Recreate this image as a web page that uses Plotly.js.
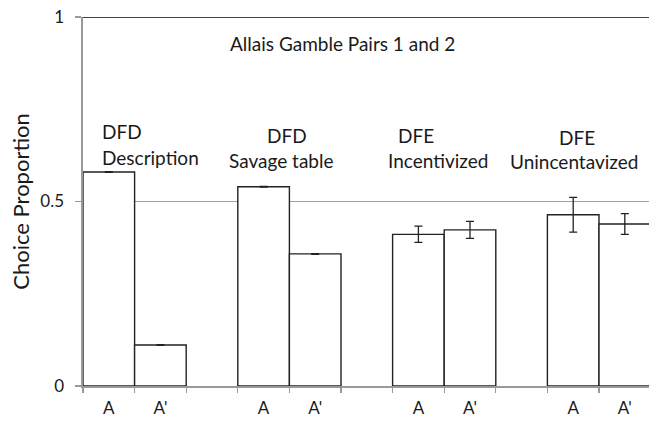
<!DOCTYPE html>
<html>
<head>
<meta charset="utf-8">
<script src="https://cdn.plot.ly/plotly-3.0.1.min.js"></script>
<style>html,body{margin:0;padding:0;background:#fff;}#chart{width:649px;height:423px;}</style>
</head>
<body>
<div id="chart"></div>
<script>
// ---- data ----
const groups = ['DFD Description', 'DFD Savage table', 'DFE Incentivized', 'DFE Unincentavized'];
const options = ['A', "A'"];
const values = [0.580, 0.111, 0.540, 0.358, 0.411, 0.423, 0.464, 0.439];
const errors = [0.001, 0.001, 0.001, 0.001, 0.022, 0.023, 0.047, 0.028];
const yTicks = [0, 0.5, 1];
const yTickLabels = ['0', '0.5', '1'];
const chartTitle = 'Allais Gamble Pairs 1 and 2';
const yTitle = 'Choice Proportion';

// ---- build category slots (two bars per group, one empty slot between groups) ----
const slotIds = [], slotLabels = [];
const barX = [], barY = [], barErr = [];
groups.forEach((g, gi) => {
  options.forEach((o, oi) => {
    const id = g + '|' + o;
    slotIds.push(id); slotLabels.push(o);
    barX.push(id); barY.push(values[gi * 2 + oi]); barErr.push(errors[gi * 2 + oi]);
  });
  if (gi < groups.length - 1) { slotIds.push('gap' + gi); slotLabels.push(''); }
});

const FONT = 'Lato, "Open Sans", sans-serif';
const W = 649, H = 423, ML = 83, MR = 0, MT = 17, MB = 37;
const pw = W - ML - MR;
const slotPx = 51.6;
const xRange = [-0.5, -0.5 + pw / slotPx];
function px(x) { return (x - ML) / pw; }
function py(y) { return 1 - (y - MT) / (H - MT - MB); }

const trace = {
  type: 'bar',
  x: barX,
  y: barY,
  width: 1,
  marker: { color: '#ffffff', line: { color: '#222222', width: 1.4 } },
  error_y: { type: 'data', array: barErr, visible: true, color: '#222222', thickness: 1.3, width: 4 },
  hoverinfo: 'none',
  cliponaxis: true
};

function ann(text, xPix, yPix, anchor) {
  return { text: text, xref: 'paper', yref: 'paper', x: px(xPix), y: py(yPix),
    xanchor: anchor || 'left', yanchor: 'middle', showarrow: false,
    font: { family: FONT, size: 19, color: '#1a1a1a' } };
}

const layout = {
  width: W, height: H,
  margin: { l: ML, r: MR, t: MT, b: MB, pad: 0 },
  paper_bgcolor: '#ffffff', plot_bgcolor: '#ffffff',
  showlegend: false,
  font: { family: FONT, color: '#1a1a1a' },
  xaxis: {
    type: 'category',
    categoryorder: 'array', categoryarray: slotIds,
    tickmode: 'array', tickvals: slotIds, ticktext: slotLabels,
    tickson: 'boundaries',
    range: xRange,
    ticks: 'outside', ticklen: 5, tickcolor: '#999999', tickwidth: 1.3,
    ticklabelstandoff: 6,
    showline: true, linecolor: '#999999', linewidth: 1.6,
    showgrid: false, zeroline: false,
    tickfont: { family: FONT, size: 17, color: '#1a1a1a' },
    fixedrange: true
  },
  yaxis: {
    range: [0, 1],
    tickmode: 'array', tickvals: yTicks, ticktext: yTickLabels,
    ticks: 'outside', ticklen: 6, tickcolor: '#999999', tickwidth: 1.3,
    ticklabelstandoff: 8,
    showline: true, linecolor: '#999999', linewidth: 1.6,
    showgrid: true, gridcolor: '#a0a0a0', gridwidth: 1.3,
    zeroline: false,
    tickfont: { family: FONT, size: 17, color: '#1a1a1a' },
    title: { text: yTitle, font: { family: FONT, size: 22, color: '#1a1a1a' }, standoff: 4 },
    fixedrange: true
  },
  shapes: [
    { type: 'line', xref: 'paper', yref: 'y', x0: 0, x1: 1, y0: 1, y1: 1,
      line: { color: '#444444', width: 2 } }
  ],
  annotations: [
    ann(chartTitle, 228, 44),
    ann('DFD', 100, 131),
    ann('Description', 100, 157),
    ann('DFD', 265, 135),
    ann('Savage table', 227, 160),
    ann('DFE', 396, 135),
    ann('Incentivized', 386, 160),
    ann('DFE', 557, 137),
    ann('Unincentavized', 508, 161)
  ]
};

Plotly.newPlot('chart', [trace], layout, { displayModeBar: false, staticPlot: true });
</script>
</body>
</html>
